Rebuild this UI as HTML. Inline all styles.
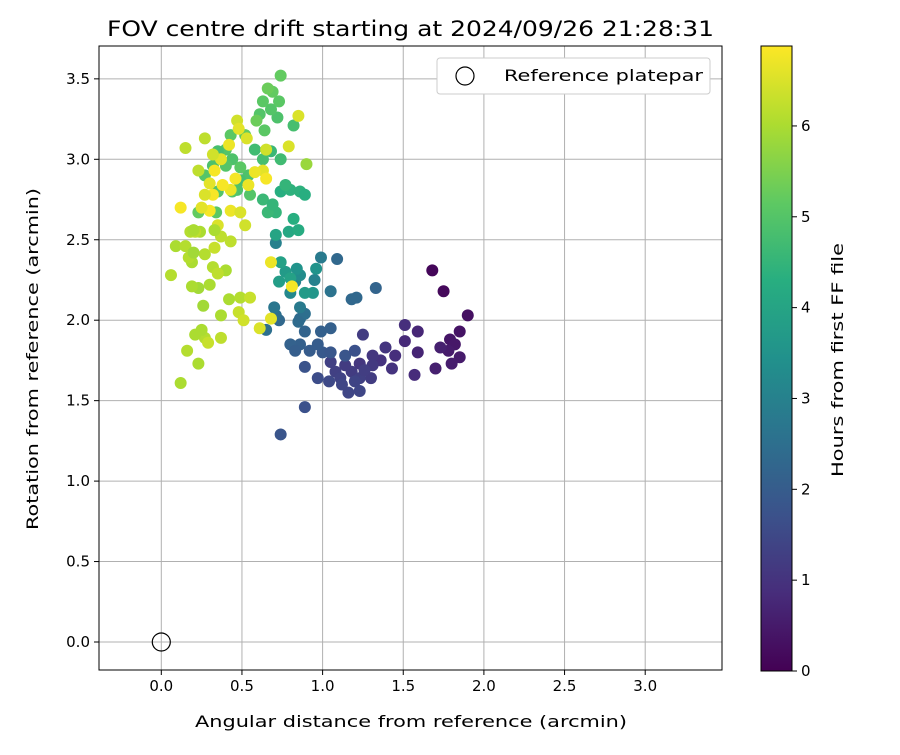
<!DOCTYPE html>
<html><head><meta charset="utf-8"><style>
body{margin:0;background:#fff;font-family:"Liberation Sans","DejaVu Sans",sans-serif;}
svg text{font-family:"DejaVu Sans","Liberation Sans",sans-serif;}
</style></head><body>
<svg id="chart" width="900" height="750" xmlns="http://www.w3.org/2000/svg">
<defs><linearGradient id="vir" x1="0" y1="1" x2="0" y2="0">
<stop offset="0" stop-color="#440154"/><stop offset="0.125" stop-color="#472d7b"/><stop offset="0.25" stop-color="#3b528b"/><stop offset="0.375" stop-color="#2c728e"/><stop offset="0.5" stop-color="#21918c"/><stop offset="0.625" stop-color="#28ae80"/><stop offset="0.75" stop-color="#5ec962"/><stop offset="0.875" stop-color="#addc30"/><stop offset="1" stop-color="#fde725"/></linearGradient></defs>
<text x="107" y="36" font-size="21" textLength="607" lengthAdjust="spacingAndGlyphs">FOV centre drift starting at 2024/09/26 21:28:31</text>
<g id="grid"></g><g id="pts"></g><g id="axes"></g>
<g>
<rect x="437" y="58" width="273" height="36" rx="3" fill="#fff" stroke="#ccc"/>
<circle cx="465" cy="76" r="9" fill="none" stroke="#000" stroke-width="1.2"/>
<text x="504" y="81" font-size="16" textLength="199" lengthAdjust="spacingAndGlyphs">Reference platepar</text>
</g>
<rect x="761" y="46" width="31" height="625" fill="url(#vir)" stroke="#000" stroke-width="1"/>
<g id="cbticks"></g>
<text transform="translate(843,477) rotate(-90)" font-size="16" textLength="234" lengthAdjust="spacingAndGlyphs">Hours from first FF file</text>
<text x="195" y="727" font-size="16" textLength="432" lengthAdjust="spacingAndGlyphs">Angular distance from reference (arcmin)</text>
<text transform="translate(38,530) rotate(-90)" font-size="16" textLength="342" lengthAdjust="spacingAndGlyphs">Rotation from reference (arcmin)</text>
</svg>
<script>
const xs=[1.68,1.75,1.90,1.85,1.79,1.82,1.78,1.85,1.80,1.73,1.70,1.59,1.51,1.59,1.51,1.45,1.57,1.36,1.43,1.39,1.31,1.23,1.31,1.18,1.14,1.05,1.08,1.11,1.30,1.23,1.25,1.20,1.16,1.23,1.04,1.12,1.26,0.97,0.89,0.74,0.89,1.00,1.05,1.14,1.20,0.92,0.86,0.80,0.83,0.97,0.73,0.71,0.65,0.89,0.99,1.05,0.86,0.89,0.85,1.18,1.21,1.33,1.05,0.99,1.09,0.70,0.71,0.86,0.95,0.83,0.80,0.86,0.96,0.94,0.89,0.77,0.73,0.84,0.74,0.80,0.71,0.79,0.85,0.82,0.74,0.80,0.71,0.66,0.63,0.69,0.86,0.89,0.77,0.68,0.74,0.58,0.63,0.90,0.82,0.72,0.68,0.61,0.63,0.73,0.69,0.66,0.74,0.64,0.54,0.49,0.44,0.40,0.35,0.32,0.40,0.49,0.47,0.55,0.43,0.52,0.27,0.35,0.44,0.23,0.34,0.59,
0.85,0.79,0.65,0.63,0.58,0.65,0.54,0.46,0.43,0.38,0.33,0.30,0.32,0.27,0.23,0.37,0.47,0.48,0.53,0.42,0.27,0.32,0.43,0.49,0.52,0.35,0.30,0.25,0.12,0.15,0.24,0.18,0.21,0.09,0.15,0.19,0.27,0.33,0.37,0.43,0.40,0.32,0.35,0.42,0.49,0.48,0.55,0.51,0.61,0.68,0.81,0.68,0.37,0.37,0.27,0.25,0.29,0.30,0.23,0.19,0.26,0.21,0.16,0.23,0.12,0.06,0.17,0.20,0.33,0.20];
const ys=[2.31,2.18,2.03,1.93,1.88,1.85,1.81,1.77,1.73,1.83,1.70,1.80,1.87,1.93,1.97,1.78,1.66,1.75,1.70,1.83,1.78,1.73,1.72,1.68,1.72,1.74,1.68,1.64,1.64,1.64,1.91,1.62,1.55,1.56,1.62,1.60,1.69,1.64,1.46,1.29,1.71,1.80,1.80,1.78,1.81,1.81,1.85,1.85,1.81,1.85,2.00,2.03,1.94,1.93,1.93,1.95,2.01,2.04,1.99,2.13,2.14,2.20,2.18,2.39,2.38,2.08,2.48,2.08,2.25,2.24,2.17,2.28,2.32,2.17,2.17,2.30,2.24,2.32,2.36,2.26,2.53,2.55,2.56,2.63,2.80,2.81,2.67,2.67,2.75,2.72,2.80,2.78,2.84,3.05,3.00,3.06,3.00,2.97,3.21,3.26,3.31,3.28,3.36,3.36,3.42,3.44,3.52,3.18,2.90,2.87,3.00,3.06,3.05,2.96,2.96,2.95,2.81,2.78,3.15,3.15,2.90,2.80,2.80,2.67,2.67,3.24,
3.27,3.08,3.06,2.93,2.92,2.88,2.84,2.88,2.81,2.84,2.93,2.85,2.78,2.78,2.93,3.00,3.24,3.19,3.13,3.09,3.13,3.03,2.68,2.67,2.59,2.59,2.68,2.70,2.70,3.07,2.55,2.55,2.55,2.46,2.46,2.36,2.41,2.45,2.52,2.49,2.31,2.33,2.29,2.13,2.14,2.05,2.14,2.00,1.95,2.01,2.21,2.36,2.03,1.89,1.89,1.94,1.86,2.22,2.20,2.21,2.09,1.91,1.81,1.73,1.61,2.28,2.39,2.42,2.56,2.56];
const hrs=[0.1,0.15,0.3,0.35,0.4,0.45,0.5,0.5,0.55,0.6,0.6,0.7,0.8,0.75,0.9,0.9,0.85,1.0,1.0,1.05,1.1,1.1,1.15,1.2,1.2,1.3,1.3,1.35,1.2,1.3,1.2,1.4,1.45,1.45,1.5,1.45,1.25,1.6,1.7,1.8,1.75,1.9,1.85,1.8,1.7,2.0,2.1,2.15,2.05,2.0,2.3,2.5,2.5,2.2,2.1,2.1,2.4,2.5,2.4,2.3,2.3,2.2,2.6,2.8,2.3,2.7,3.0,2.8,3.0,3.0,3.2,3.3,3.5,3.6,3.7,3.7,3.8,3.5,3.9,3.9,4.0,4.1,4.2,4.3,4.3,4.4,4.5,4.6,4.6,4.5,4.4,4.3,4.5,4.6,4.7,4.7,4.8,5.8,4.8,4.9,5.0,5.0,5.1,5.1,5.2,5.3,5.2,5.1,4.9,4.8,4.9,5.0,4.8,4.9,5.0,5.1,4.9,5.0,5.1,5.2,5.0,5.0,5.0,5.2,5.1,5.3,
6.5,6.5,6.4,6.6,6.7,6.8,6.7,6.8,6.7,6.8,6.8,6.6,6.8,6.5,6.2,6.6,6.4,6.6,6.5,6.7,6.2,6.4,6.7,6.5,6.4,6.5,6.8,6.6,6.8,6.2,6.0,6.1,6.2,6.0,6.1,6.0,6.1,6.3,6.2,6.2,6.0,6.1,6.2,6.0,6.1,6.3,6.3,6.4,6.5,6.6,6.8,6.7,6.0,6.2,6.1,6.0,6.3,6.0,5.9,6.0,5.9,6.0,6.1,6.0,6.0,6.1,6.1,5.9,6.0,6.0];
const xTicks=[0.0,0.5,1.0,1.5,2.0,2.5,3.0];
const yTicks=[0.0,0.5,1.0,1.5,2.0,2.5,3.0,3.5];
const cbTicks=[0,1,2,3,4,5,6];
const HMAX=6.88;
const L=99,R=722,T=46,B=670;
const X=v=>161.3+v*161.3, Y=v=>642-v*160.9, C=h=>671-h*(625/HMAX);
const vir=["#440154","#472d7b","#3b528b","#2c728e","#21918c","#28ae80","#5ec962","#addc30","#fde725"];
function hex(c){return [1,3,5].map(i=>parseInt(c.substr(i,2),16));}
function col(h){let t=Math.max(0,Math.min(1,h/HMAX))*8,i=Math.min(7,Math.floor(t)),f=t-i,a=hex(vir[i]),b=hex(vir[i+1]);return "rgb("+a.map((v,k)=>Math.round(v+(b[k]-v)*f)).join(",")+")";}
const NS="http://www.w3.org/2000/svg";
function mk(p,tag,at){const e=document.createElementNS(NS,tag);for(const k in at)e.setAttribute(k,at[k]);p.appendChild(e);return e;}
const g=document.getElementById('grid'),ax=document.getElementById('axes'),pg=document.getElementById('pts'),cb=document.getElementById('cbticks');
xTicks.forEach(v=>{const x=X(v);
 const l=mk(g,'line',{x1:x,x2:x,y1:T,y2:B,stroke:'#b0b0b0','stroke-width':1});
 
 
 mk(ax,'line',{x1:x,x2:x,y1:B,y2:B+5,stroke:'#000'});
 const t=mk(ax,'text',{x:x,y:B+21,'text-anchor':'middle','font-size':15});t.textContent=v.toFixed(1);
 
 });
yTicks.forEach(v=>{const y=Y(v);
 const l=mk(g,'line',{x1:L,x2:R,y1:y,y2:y,stroke:'#b0b0b0','stroke-width':1});
 
 
 mk(ax,'line',{x1:L-5,x2:L,y1:y,y2:y,stroke:'#000'});
 const t=mk(ax,'text',{x:L-9,y:y+5,'text-anchor':'end','font-size':15});t.textContent=v.toFixed(1);
 
 });
const fr=mk(ax,'rect',{x:L,y:T,width:R-L,height:B-T,fill:'none',stroke:'#000','stroke-width':1});


xs.forEach((x,i)=>{const c=mk(pg,'circle',{cx:X(x),cy:Y(ys[i]),r:6,fill:col(hrs[i])});
 
 });
const ref=mk(pg,'circle',{cx:X(0),cy:Y(0),r:9,fill:'none',stroke:'#000','stroke-width':1.2});


cbTicks.forEach(v=>{const y=C(v);
 mk(cb,'line',{x1:792,x2:797,y1:y,y2:y,stroke:'#000'});
 const t=mk(cb,'text',{x:801,y:y+5,'font-size':15});t.textContent=v;
 
 });
</script>
</body></html>
